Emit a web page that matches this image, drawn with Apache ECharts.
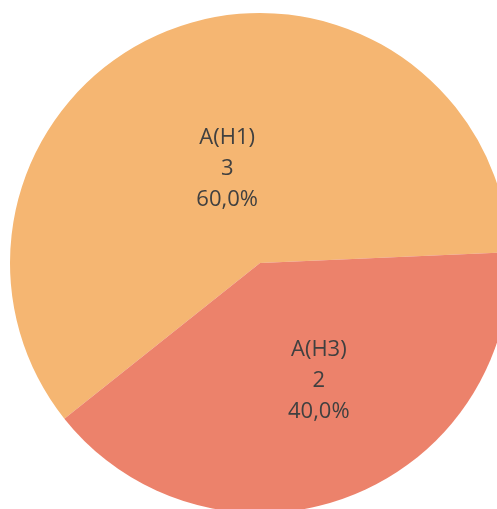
<!DOCTYPE html>
<html>
<head>
<meta charset="utf-8">
<script src="https://cdn.jsdelivr.net/npm/echarts@6/dist/echarts.min.js"></script>
<style>
  html, body { margin: 0; padding: 0; background: #ffffff; }
  #chart { width: 497px; height: 509px; }
</style>
</head>
<body>
<div id="chart"></div>
<script>
// Subtype counts
const categories = ['A(H1)', 'A(H3)'];
const counts = [3, 2];
const sliceColors = ['#F5B672', '#EC826B'];

// Small nudges applied to the default inside label positions
const labelShift = [[12, 26], [14, -2]];

const chart = echarts.init(document.getElementById('chart'), null, { renderer: 'canvas' });

chart.setOption({
  animation: false,
  backgroundColor: '#ffffff',
  series: [{
    type: 'pie',
    center: [260, 263],
    radius: 250,
    startAngle: 218.5,
    clockwise: true,
    emphasis: { disabled: true },
    itemStyle: { borderWidth: 0 },
    label: {
      show: true,
      position: 'inside',
      color: '#404040',
      fontFamily: 'Open Sans, Lato, sans-serif',
      fontSize: 22,
      lineHeight: 31,
      align: 'center',
      formatter: function (p) {
        return p.name + '\n' + p.value + '\n' + p.percent.toFixed(1).replace('.', ',') + '%';
      }
    },
    labelLine: { show: false },
    labelLayout: function (params) {
      const s = labelShift[params.dataIndex] || [0, 0];
      return { dx: s[0], dy: s[1] };
    },
    data: categories.map(function (name, i) {
      return { name: name, value: counts[i], itemStyle: { color: sliceColors[i] } };
    })
  }]
});
</script>
</body>
</html>
